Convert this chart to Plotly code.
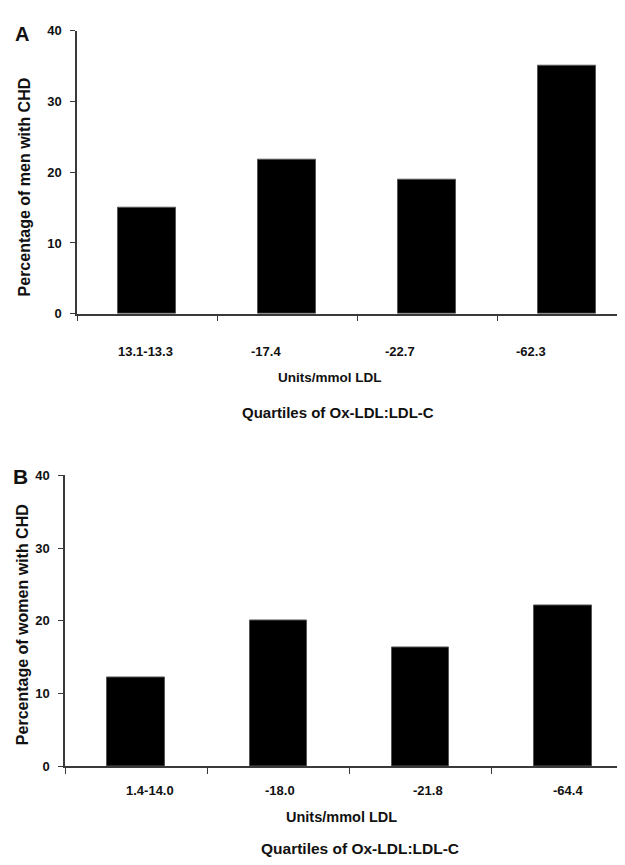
import plotly.graph_objects as go

# ---------------- data ----------------
categories_men = ["13.1-13.3", "-17.4", "-22.7", "-62.3"]
values_men = [15.0, 21.7, 19.0, 35.1]

categories_women = ["1.4-14.0", "-18.0", "-21.8", "-64.4"]
values_women = [12.2, 20.1, 16.3, 22.1]

y_ticks = [0, 10, 20, 30, 40]

# --------------- style / layout helpers ---------------
VW, VH = 625, 865          # browser viewport
OFF = 8                    # default page body margin
W, H = VW - OFF, VH - OFF  # figure size so it fits the viewport exactly
FONT = "Liberation Sans, Arial, sans-serif"
AXIS_COLOR = "#3a3a3a"
TEXT_COLOR = "#111111"

# label shifts (in category units) to mimic original label placement
label_shift_men = [-0.01, -0.15, -0.19, -0.26]
label_shift_women = [0.10, 0.01, 0.05, 0.04]


def px_x(p):
    """viewport x pixel -> paper coordinate"""
    return (p - OFF) / W


def px_y(p):
    """viewport y pixel -> paper coordinate"""
    return 1 - (p - OFF) / H


fig = go.Figure()

fig.add_trace(go.Bar(
    x=list(range(len(values_men))), y=values_men, width=0.41,
    marker=dict(color="black", line=dict(color="#555555", width=1)),
    xaxis="x", yaxis="y", showlegend=False,
    hovertext=categories_men,
))
fig.add_trace(go.Bar(
    x=list(range(len(values_women))), y=values_women, width=0.405,
    marker=dict(color="black", line=dict(color="#555555", width=1)),
    xaxis="x2", yaxis="y2", showlegend=False,
    hovertext=categories_women,
))

common_x = dict(
    showgrid=False, zeroline=False, showline=True, linecolor=AXIS_COLOR, linewidth=1.5,
    tickmode="array", tickvals=[-0.5, 0.5, 1.5, 2.5], ticks="outside", ticklen=6,
    tickcolor=AXIS_COLOR, tickwidth=1, showticklabels=False, fixedrange=True,
)
common_y = dict(
    showgrid=False, zeroline=False, showline=True, linecolor=AXIS_COLOR, linewidth=1.5,
    tickmode="array", tickvals=y_ticks, ticktext=[str(v) for v in y_ticks],
    ticks="outside", ticklen=5, tickcolor=AXIS_COLOR, tickwidth=1,
    range=[0, 40], ticklabelstandoff=6,
    tickfont=dict(family=FONT, size=13, color=TEXT_COLOR, weight="bold"),
)

xa_left = 77
xb_left = 65
cat_w_a = 140.0
cat_w_b = 142.2

fig.update_layout(
    width=W, height=H,
    margin=dict(l=0, r=0, t=0, b=0),
    paper_bgcolor="white", plot_bgcolor="white",
    bargap=0,
    xaxis=dict(common_x, domain=[px_x(xa_left), 1.0], anchor="y",
               range=[-0.5, -0.5 + (VW - xa_left) / cat_w_a]),
    yaxis=dict(common_y, domain=[px_y(312), px_y(24)], anchor="x"),
    xaxis2=dict(common_x, domain=[px_x(xb_left), 1.0], anchor="y2",
                range=[-0.5, -0.5 + (VW - xb_left) / cat_w_b]),
    yaxis2=dict(common_y, domain=[px_y(772.7), px_y(476.7)], anchor="x2"),
)

annotations = []
for i, (lab, sh) in enumerate(zip(categories_men, label_shift_men)):
    annotations.append(dict(x=i + sh, xref="x", y=px_y(350), yref="paper",
                            text=lab, showarrow=False, xanchor="center", yanchor="middle",
                            font=dict(family=FONT, size=13, color=TEXT_COLOR, weight="bold")))
for i, (lab, sh) in enumerate(zip(categories_women, label_shift_women)):
    annotations.append(dict(x=i + sh, xref="x2", y=px_y(797), yref="paper",
                            text=lab, showarrow=False, xanchor="center", yanchor="middle",
                            font=dict(family=FONT, size=13, color=TEXT_COLOR, weight="bold")))


def txt(x, y, text, size, angle=0):
    return dict(x=px_x(x), y=px_y(y), xref="paper", yref="paper", text=text,
                showarrow=False, xanchor="center", yanchor="middle", textangle=angle,
                font=dict(family=FONT, size=size, color=TEXT_COLOR, weight="bold"))


annotations += [
    txt(22, 27, "A", 20),
    txt(20, 478, "B", 21),
    txt(24, 183.5, "Percentage of men with CHD", 16, -90),
    txt(22.5, 628.5, "Percentage of women with CHD", 16, -90),
    txt(330, 377, "Units/mmol LDL", 13.5),
    txt(338, 413, "Quartiles of Ox-LDL:LDL-C", 15),
    txt(341, 824, "Units/mmol LDL", 14.5),
    txt(360, 856, "Quartiles of Ox-LDL:LDL-C", 15.5),
]
fig.update_layout(annotations=annotations)

fig.write_html("out.html")
